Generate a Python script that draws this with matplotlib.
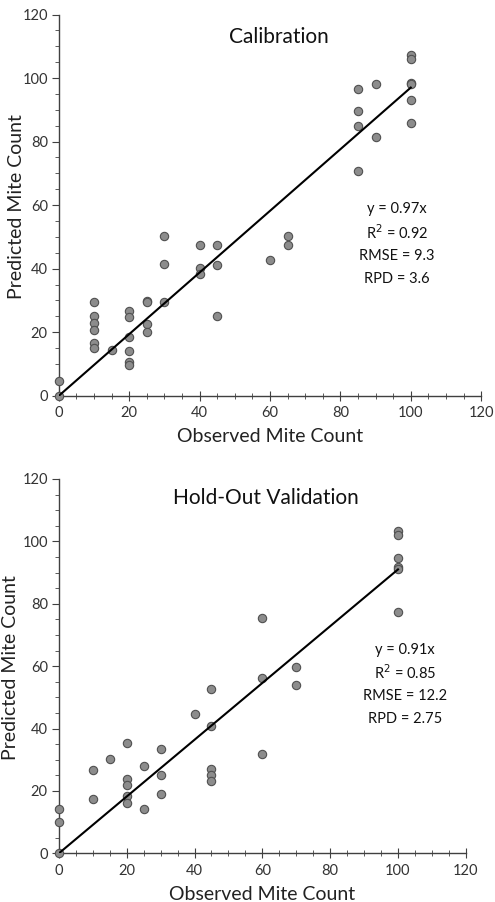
import matplotlib
matplotlib.use("Agg")
import matplotlib.pyplot as plt
import numpy as np
from matplotlib.ticker import MultipleLocator

plt.rcParams['font.family'] = ['Lato', 'DejaVu Sans']

# Calibration data
cal_obs = [0, 0,
           10, 10, 10, 10, 10, 10,
           15,
           20, 20, 20, 20, 20, 20,
           25, 25, 25, 25,
           30, 30, 30,
           40, 40, 40,
           45, 45, 45,
           60, 65, 65,
           85, 85, 85, 85,
           90, 90,
           100, 100, 100, 100, 100, 100]
cal_pred = [0, 4.6,
            29.6, 25.2, 23.0, 20.6, 16.5, 15.1,
            14.3,
            26.7, 24.8, 18.6, 14.1, 10.7, 9.6,
            29.8, 29.5, 22.6, 20.2,
            50.3, 41.6, 29.4,
            47.5, 40.1, 38.4,
            47.4, 41.0, 25.0,
            42.8, 50.4, 47.4,
            96.5, 89.6, 85.0, 70.7,
            98.1, 81.4,
            107.2, 105.9, 98.5, 98.0, 93.0, 85.9]
cal_slope = 0.97
cal_stats = ["y = 0.97x", "R$^2$ = 0.92", "RMSE = 9.3", "RPD = 3.6"]

# Hold-out validation data
val_obs = [0, 0, 0,
           10, 10,
           15,
           20, 20, 20, 20, 20,
           25, 25,
           30, 30, 30,
           40,
           45, 45, 45, 45, 45,
           60, 60, 60,
           70, 70,
           100, 100, 100, 100, 100, 100]
val_pred = [0, 10.1, 14.2,
            26.6, 17.5,
            30.3,
            35.5, 23.7, 21.8, 18.5, 16.0,
            28.0, 14.1,
            33.5, 25.0, 19.0,
            44.6,
            52.7, 40.7, 26.9, 25.1, 23.1,
            75.3, 56.1, 31.7,
            59.8, 53.9,
            103.4, 102.1, 94.6, 91.9, 91.1, 77.5]
val_slope = 0.91
val_stats = ["y = 0.91x", "R$^2$ = 0.85", "RMSE = 12.2", "RPD = 2.75"]

fig = plt.figure(figsize=(4.95, 9.02), dpi=100)
ax1 = fig.add_axes([0.119, 0.5613, 0.853, 0.4226])
ax2 = fig.add_axes([0.119, 0.054, 0.822, 0.415])

spine_col = '#404040'
tick_col = '#404040'


def style(ax, title, tx, ty, stats, sx, sy, dy, ylx):
    ax.set_xlim(0, 120)
    ax.set_ylim(0, 120)
    for s in ['top', 'right']:
        ax.spines[s].set_visible(False)
    for s in ['left', 'bottom']:
        ax.spines[s].set_color(spine_col)
        ax.spines[s].set_linewidth(1.0)
    ax.xaxis.set_major_locator(MultipleLocator(20))
    ax.xaxis.set_minor_locator(MultipleLocator(5))
    ax.yaxis.set_major_locator(MultipleLocator(20))
    ax.yaxis.set_minor_locator(MultipleLocator(5))
    ax.tick_params(axis='x', which='major', direction='inout', length=7,
                   color=tick_col, labelcolor='#333333', labelsize=10.5, pad=4)
    ax.tick_params(axis='x', which='minor', direction='inout', length=4,
                   color=tick_col)
    ax.tick_params(axis='y', which='major', direction='out', length=5,
                   color=tick_col, labelcolor='#333333', labelsize=10.5, pad=3)
    ax.tick_params(axis='y', which='minor', direction='out', length=3,
                   color=tick_col)
    ax.set_xlabel("Observed Mite Count", fontsize=14, color='#222222', labelpad=6)
    ax.set_ylabel("Predicted Mite Count", fontsize=14, color='#222222')
    ax.yaxis.set_label_coords(ylx, 0.497)
    ax.text(tx, ty, title, fontsize=15, ha='center', va='center', color='#111111')
    for i, s in enumerate(stats):
        ax.text(sx, sy - i * dy, s, fontsize=10.5, ha='center', va='center',
                color='#111111')
    ax.patch.set_visible(False)


xl = np.array([0, 100])

# Calibration
ax1.scatter(cal_obs, cal_pred, s=36, facecolor='#8c8c8c', edgecolor='#505050',
            linewidth=0.8, zorder=3, clip_on=False)
ax1.plot(xl, cal_slope * xl, color='black', linewidth=1.5, zorder=4)
style(ax1, "Calibration", 62.5, 113, cal_stats, 96, 58.8, 7.4, -0.08)

# Validation
ax2.scatter(val_obs, val_pred, s=36, facecolor='#8c8c8c', edgecolor='#505050',
            linewidth=0.8, zorder=3, clip_on=False)
ax2.plot(xl, val_slope * xl, color='black', linewidth=1.5, zorder=4)
style(ax2, "Hold-Out Validation", 61, 114, val_stats, 102, 65.2, 7.4, -0.098)

fig.savefig("out.png", dpi=100)
